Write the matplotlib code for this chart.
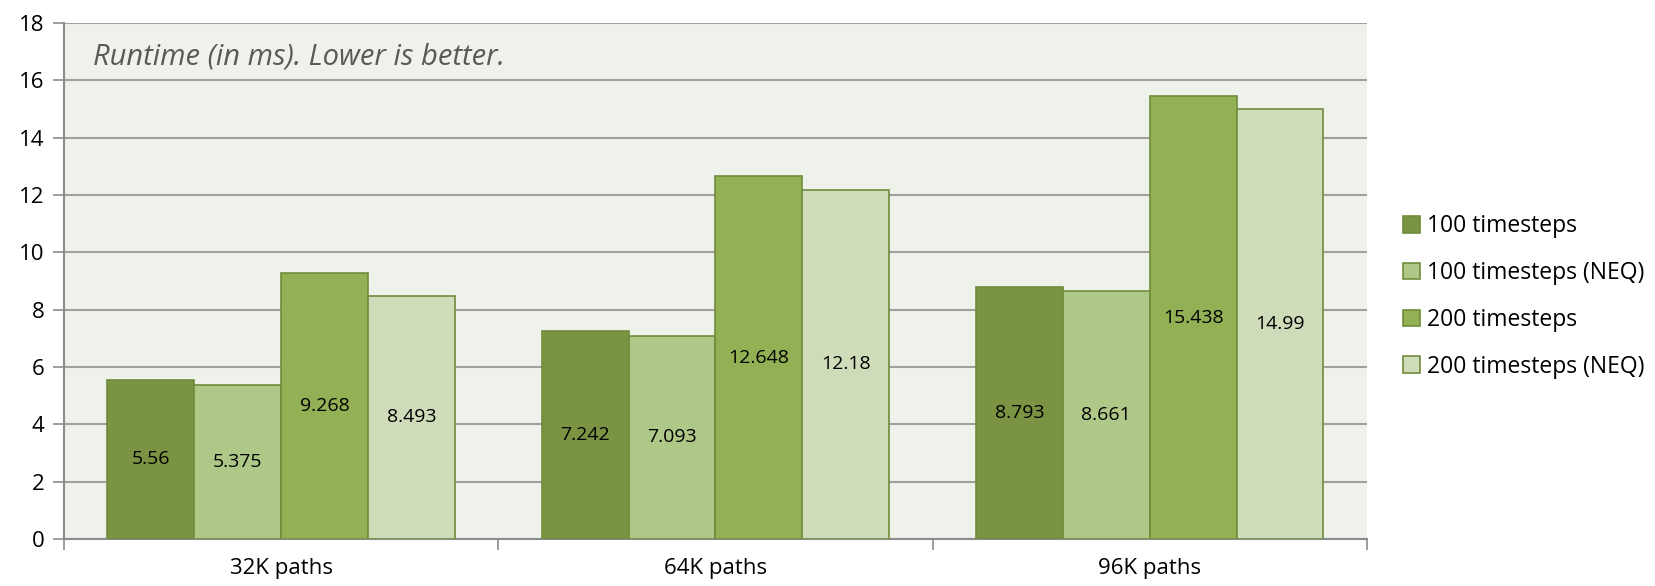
import numpy as np
import matplotlib.pyplot as plt

# Chart data
categories = ['32K paths', '64K paths', '96K paths']
series_names = ['100 timesteps', '100 timesteps (NEQ)', '200 timesteps', '200 timesteps (NEQ)']
ts100 = [5.56, 7.242, 8.793]
ts100_neq = [5.375, 7.093, 8.661]
ts200 = [9.268, 12.648, 15.438]
ts200_neq = [8.493, 12.18, 14.99]
yticks = [0, 2, 4, 6, 8, 10, 12, 14, 16, 18]

colors = ['#7A9443', '#AFC787', '#93B055', '#CEDCB9']
edge = '#6F8C3A'
font = ['Open Sans', 'DejaVu Sans']
plt.rcParams['font.family'] = font

fig = plt.figure(figsize=(16.56, 5.86), dpi=100)
ax = fig.add_axes([0.0386, 0.0802, 0.7868, 0.8805])
ax.set_facecolor('#EFF2EA')

x = np.arange(len(categories))
width = 0.2
all_series = [ts100, ts100_neq, ts200, ts200_neq]
for i, (name, vals) in enumerate(zip(series_names, all_series)):
    pos = x - 0.3 + i * width
    bars = ax.bar(pos, vals, width, color=colors[i], edgecolor=edge,
                  linewidth=1.2, label=name, zorder=3)
    for b, v in zip(bars, vals):
        ax.text(b.get_x() + b.get_width() / 2, v / 2, f'{v:g}',
                ha='center', va='center', fontsize=14, color='black', zorder=4)

ax.set_xlim(-0.5, len(categories) - 0.5)
ax.set_ylim(0, 18)
ax.set_yticks(yticks)
ax.tick_params(axis='y', labelsize=16, length=8, color='#8C8C8C', width=1.2, pad=6)
ax.yaxis.grid(True, color='#A0A0A0', linewidth=1.5, zorder=0)
ax.set_axisbelow(True)

# category labels between boundary ticks
ax.set_xticks(np.arange(-0.5, len(categories), 1.0))
ax.set_xticklabels([])
ax.set_xticks(x, minor=True)
ax.set_xticklabels(categories, minor=True, fontsize=16)
ax.tick_params(axis='x', which='major', length=8, color='#8C8C8C', width=1.2)
ax.tick_params(axis='x', which='minor', length=0, pad=14)

for s in ['top', 'right']:
    ax.spines[s].set_visible(False)
for s in ['left', 'bottom']:
    ax.spines[s].set_color('#8C8C8C')
    ax.spines[s].set_linewidth(1.5)

ax.text(0.022, 0.935, 'Runtime (in ms). Lower is better.', transform=ax.transAxes,
        fontsize=21, style='italic', color='#595959', va='center')

leg = ax.legend(loc='center left', bbox_to_anchor=(1.012, 0.47), frameon=False,
                fontsize=16.5, handlelength=0.75, handleheight=0.75,
                handletextpad=0.3, labelspacing=1.0)

fig.savefig('out.png', dpi=100)
